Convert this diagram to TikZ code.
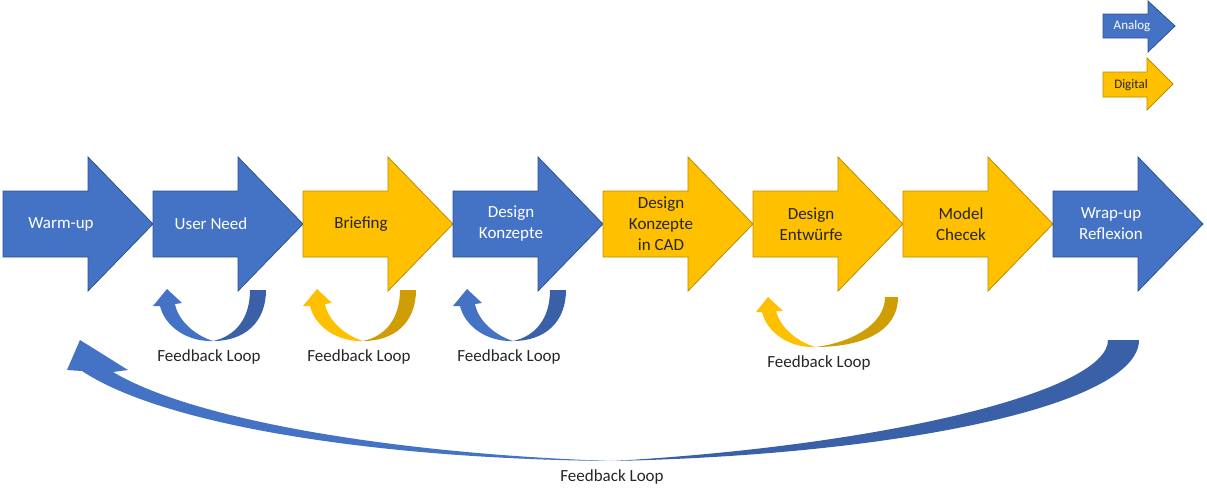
\documentclass[tikz,border=0pt]{standalone}
\usepackage{fontspec}
\setmainfont{Carlito}
\usetikzlibrary{positioning}

\definecolor{analogblue}{HTML}{4472C4}
\definecolor{analogedge}{HTML}{2F528F}
\definecolor{analogback}{HTML}{3A60A8}
\definecolor{digitalyellow}{HTML}{FFC000}
\definecolor{digitaledge}{HTML}{BC8C00}
\definecolor{digitalback}{HTML}{CF9D05}
\definecolor{darktext}{HTML}{262626}

% one process step: shaft 85 wide, head 65 long
\newcommand{\stagearrow}[2]{%
  \path[#2] (#1,191) -- ++(85,0) -- ++(0,-34) -- ++(65,67) -- ++(-65,67)
    -- ++(0,-34) -- ++(-85,0) -- cycle;}

% small feedback loop under a step, #1 shift, #2 front, #3 back
\newcommand{\smallloop}[3]{%
  \begin{scope}[shift={(#1,0)}]
    \fill[#3] (266,290) .. controls (266,322) and (245,341) .. (213,341)
      .. controls (236,336) and (250,318) .. (250,290) -- cycle;
    \fill[#2] (213,341) .. controls (188,342) and (165,327) .. (160,306)
      -- (153,306) -- (167,289) -- (182,303) -- (175,304)
      .. controls (178,320) and (194,335) .. (213,341) -- cycle;
  \end{scope}}

\begin{document}
\begin{tikzpicture}[x=1pt, y=-1pt,
    analog/.style={fill=analogblue, draw=analogedge, line width=0.8pt},
    digital/.style={fill=digitalyellow, draw=digitaledge, line width=0.8pt},
    every node/.style={align=center, inner sep=0pt,
      font=\fontsize{17}{21}\selectfont},
    onblue/.style={text=white},
    onyellow/.style={text=darktext},
    looplabel/.style={text=darktext, font=\fontsize{17}{20}\selectfont},
    keylabel/.style={font=\fontsize{13}{15}\selectfont}
  ]
  \useasboundingbox (0,0) rectangle (1207,488);

  % process steps
  \foreach \x/\st/\tx/\nm/\txt in {
      3/analog/onblue/warmup/Warm-up,
      153/analog/onblue/userneed/User Need,
      303/digital/onyellow/briefing/Briefing,
      453/analog/onblue/konzepte/Design\\Konzepte,
      603/digital/onyellow/cad/Design\\Konzepte\\in CAD,
      753/digital/onyellow/entwuerfe/Design\\Entwürfe,
      903/digital/onyellow/model/Model\\Checek,
      1053/analog/onblue/wrapup/Wrap-up\\Reflexion} {
    \stagearrow{\x}{\st}
    \node[\tx] (\nm) at (\x+58,224) {\txt};
  }

  % legend
  \path[analog] (1103,14) -- (1148,14) -- (1148,1) -- (1175,26) -- (1148,52)
    -- (1148,38) -- (1103,38) -- cycle;
  \node[keylabel, onblue] (analog) at (1132,26) {Analog};
  \path[digital] (1103,72) -- (1147,72) -- (1147,58) -- (1173,84) -- (1147,110)
    -- (1147,97) -- (1103,97) -- cycle;
  \node[keylabel, onyellow] (digital) at (1131,85) {Digital};

  % short loops
  \smallloop{0}{analogblue}{analogback}
  \smallloop{150}{digitalyellow}{digitalback}
  \smallloop{300}{analogblue}{analogback}
  \node[looplabel] (fbuser) at (209,357) {Feedback Loop};
  \node[looplabel] (fbbrief) at (359,357) {Feedback Loop};
  \node[looplabel] (fbkonz) at (509,357) {Feedback Loop};

  % wider loop under Design Entwuerfe
  \fill[digitalback] (898,297) .. controls (898,333) and (860,347) .. (815,347)
    .. controls (850,343) and (885,325) .. (885,297) -- cycle;
  \fill[digitalyellow] (815,347) .. controls (790,348) and (767,333) .. (762,312)
    -- (756,312) -- (768,297) -- (783,311) -- (776,311)
    .. controls (780,327) and (796,341) .. (815,347) -- cycle;
  \node[looplabel] (fbentw) at (819,363) {Feedback Loop};

  % long loop back to the start
  \fill[analogback] (1139,340) .. controls (1139,405) and (900,455) .. (612,461)
    .. controls (880,446) and (1108,392) .. (1108,340) -- cycle;
  \fill[analogblue] (612,461) .. controls (380,459) and (165,426) .. (82,371)
    -- (67,370) -- (80,340) -- (128,370) -- (113,372)
    .. controls (195,421) and (400,454) .. (612,461) -- cycle;
  \node[looplabel] (fball) at (612,477) {Feedback Loop};
\end{tikzpicture}
\end{document}
